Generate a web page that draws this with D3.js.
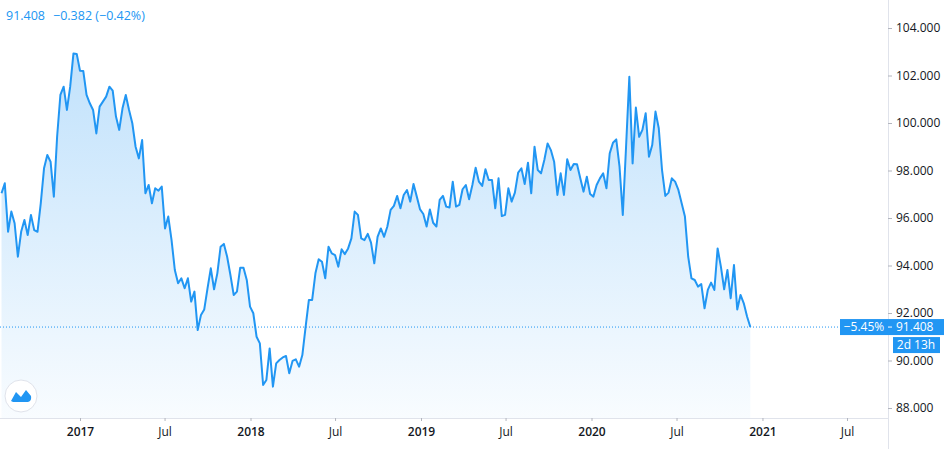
<!DOCTYPE html><html><head><meta charset="utf-8">
<script src="https://cdn.jsdelivr.net/npm/d3@7"></script>
<style>body{margin:0;background:#fff;font-family:"Open Sans",Roboto,sans-serif}</style></head><body>
<svg id="c" width="945" height="449"></svg>
<script>
const startDate = "2016-07-17";
const values = [
97.04,97.46,95.42,96.27,95.78,94.37,95.42,95.92,95.28,96.13,95.49,95.42,96.62,98.09,98.65,98.37,96.90,99.42,101.18,101.53,100.55,101.53,102.93,102.91,102.20,102.19,101.18,100.83,100.55,99.56,100.69,100.90,101.11,101.53,101.36,100.27,99.71,100.62,101.18,100.55,99.99,99.00,98.51,99.28,97.04,97.39,96.62,97.25,97.15,97.32,95.56,96.06,95.07,93.81,93.25,93.46,93.04,93.46,92.48,92.90,91.28,91.92,92.15,93.04,93.88,93.00,93.67,94.79,94.91,94.37,93.60,92.76,92.90,93.91,93.91,93.39,92.27,91.99,91.00,
90.72,88.97,89.18,90.51,88.90,89.88,90.02,90.13,90.19,89.46,89.98,90.05,89.74,90.23,91.42,92.55,92.55,93.67,94.26,94.16,93.46,94.79,94.51,94.44,93.95,94.68,94.48,94.72,95.14,96.27,96.13,95.14,95.07,95.33,94.96,94.09,95.21,95.56,95.21,95.64,96.34,96.51,96.93,96.41,96.97,97.18,96.69,97.43,96.90,96.36,96.17,95.64,96.36,95.80,95.64,96.76,
96.93,96.48,96.44,97.53,96.48,96.55,97.21,97.39,96.79,97.39,98.12,97.53,97.35,98.05,97.60,97.60,96.41,97.67,96.08,96.13,97.25,96.69,97.07,97.91,98.09,97.43,98.33,97.04,99.00,98.02,97.88,98.44,99.14,98.86,98.37,96.97,97.88,96.97,98.47,98.02,98.27,98.26,97.67,97.11,97.74,97.01,96.90,97.39,97.67,97.88,97.25,98.72,99.17,99.31,
98.16,96.13,99.00,101.95,98.30,100.65,99.42,99.71,100.41,98.58,99.07,100.48,99.78,98.02,96.93,97.07,97.67,97.53,97.18,96.62,96.06,94.37,93.46,93.39,93.11,93.22,92.20,92.97,93.28,92.97,94.72,93.95,93.00,93.81,92.62,94.02,92.15,92.76,92.41,91.85,91.408];
const yTicks = [88,90,92,94,96,98,100,102,104];
const xTickLabels = ["2017","Jul","2018","Jul","2019","Jul","2020","Jul","2021","Jul"];
const xTickDates = ["2017-01-01","2017-07-01","2018-01-01","2018-07-01","2019-01-01","2019-07-01","2020-01-01","2020-07-01","2021-01-01","2021-07-01"];
const headerText = ["91.408","\u22120.382 (\u22120.42%)"];

const svg = d3.select("#c");
const W=888, H=418, blue="#2196f3", txt="#131722", border="#e0e3eb";
const p = d3.timeParse("%Y-%m-%d");
const x = d3.scaleTime().domain([p("2017-01-01"),p("2018-01-01")]).range([80,250.5]);
const y = d3.scaleLinear().domain([88,104]).range([408,28]);
const s0 = p(startDate);
const data = values.map((v,i)=>({d:d3.timeWeek.offset(s0,i),v}));

const defs = svg.append("defs");
const g = defs.append("linearGradient").attr("id","gr").attr("x1",0).attr("x2",0).attr("y1",0).attr("y2",1);
g.append("stop").attr("offset","0%").attr("stop-color",blue).attr("stop-opacity",0.28);
g.append("stop").attr("offset","100%").attr("stop-color",blue).attr("stop-opacity",0.03);
defs.append("clipPath").attr("id","cp").append("rect").attr("width",W).attr("height",H);

const plot = svg.append("g").attr("clip-path","url(#cp)");
plot.append("path").datum(data).attr("fill","url(#gr)")
  .attr("d",d3.area().x(d=>x(d.d)).y0(H).y1(d=>y(d.v)));
const last = data[data.length-1];
plot.append("line").attr("x1",0).attr("x2",W).attr("y1",y(last.v)).attr("y2",y(last.v))
  .attr("stroke",blue).attr("stroke-dasharray","1,2").attr("stroke-width",1);
plot.append("path").datum(data).attr("fill","none").attr("stroke",blue).attr("stroke-width",2)
  .attr("stroke-linejoin","round").attr("d",d3.line().x(d=>x(d.d)).y(d=>y(d.v)));

svg.append("line").attr("x1",W+0.5).attr("x2",W+0.5).attr("y1",0).attr("y2",449).attr("stroke",border);
svg.append("line").attr("x1",0).attr("x2",W).attr("y1",H+0.5).attr("y2",H+0.5).attr("stroke",border);

const ya = svg.append("g").attr("transform",`translate(${W},0)`)
  .call(d3.axisRight(y).tickValues(yTicks).tickFormat(d3.format(".3f")).tickSize(4).tickPadding(4));
ya.select(".domain").remove();
ya.selectAll("line").attr("stroke","#b2b5be");
ya.selectAll("text").attr("fill",txt).attr("font-size",12).attr("font-family","Open Sans, sans-serif").attr("x",8);

const xa = svg.append("g").attr("transform",`translate(0,${H})`)
  .call(d3.axisBottom(x).tickValues(xTickDates.map(p)).tickFormat((d,i)=>xTickLabels[i]).tickSize(3).tickPadding(6));
xa.select(".domain").remove();
xa.selectAll("line").attr("stroke","#b2b5be");
xa.selectAll("text").attr("fill",txt).attr("font-size",12).attr("font-family","Open Sans, sans-serif")
  .attr("font-weight",(d,i)=>xTickLabels[i]==="Jul"?400:600);

const ly = y(last.v);
svg.append("rect").attr("x",840).attr("y",ly-8).attr("width",48).attr("height",16).attr("fill",blue);
svg.append("text").attr("x",864).attr("y",ly+4).attr("text-anchor","middle").attr("fill","#fff").attr("font-size",12).text("\u22125.45%");
svg.append("rect").attr("x",888).attr("y",ly-8).attr("width",56).attr("height",16).attr("fill",blue);
svg.append("line").attr("x1",888).attr("x2",892).attr("y1",ly).attr("y2",ly).attr("stroke","#fff");
svg.append("text").attr("x",896).attr("y",ly+4).attr("fill","#fff").attr("font-size",12).text(d3.format(".3f")(last.v));
svg.append("rect").attr("x",893).attr("y",ly+10).attr("width",47).attr("height",16).attr("fill",blue);
svg.append("text").attr("x",916).attr("y",ly+22).attr("text-anchor","middle").attr("fill","#fff").attr("font-size",12).text("2d 13h");

const ht = svg.append("text").attr("x",6).attr("y",20).attr("fill",blue).attr("font-size",12.5);
ht.append("tspan").text(headerText[0]);
ht.append("tspan").attr("dx",8).text(headerText[1]);

svg.append("circle").attr("cx",21).attr("cy",396).attr("r",16).attr("fill","#fff").attr("stroke","#e0e3eb");
svg.append("path").attr("d","M11,401 L16,392 L21,397 L26,390 L31,396 Q32,401 28,402 L13,402 Z").attr("fill",blue);
</script></body></html>
